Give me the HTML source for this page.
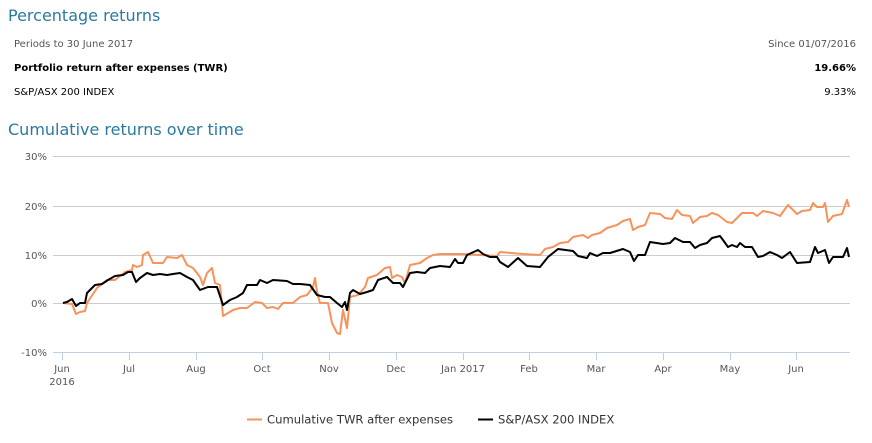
<!DOCTYPE html>
<html><head><meta charset="utf-8"><style>
body{margin:0;width:872px;height:443px;background:#fff;font-family:"DejaVu Sans",Verdana,sans-serif;overflow:hidden;position:relative}
.t{position:absolute;white-space:nowrap}
</style></head><body>
<div class="t" style="left:8px;top:6px;font-size:16px;color:#2a7aa0">Percentage returns</div>
<div class="t" style="left:14px;top:39px;font-size:10px;color:#555">Periods to 30 June 2017</div>
<div class="t" style="right:16px;top:39px;font-size:10px;color:#555">Since 01/07/2016</div>
<div class="t" style="left:14px;top:63px;font-size:10px;color:#000;font-weight:bold">Portfolio return after expenses (TWR)</div>
<div class="t" style="right:16px;top:63px;font-size:10px;color:#000;font-weight:bold">19.66%</div>
<div class="t" style="left:14px;top:87px;font-size:10px;color:#000">S&amp;P/ASX 200 INDEX</div>
<div class="t" style="right:16px;top:87px;font-size:10px;color:#000">9.33%</div>
<div class="t" style="left:8px;top:120px;font-size:16px;color:#2a7aa0">Cumulative returns over time</div>
<svg width="872" height="443" style="position:absolute;left:0;top:0" font-family="DejaVu Sans, Verdana, sans-serif" font-size="10" fill="#555">
<g stroke="#ccc" stroke-width="1">
<line x1="53" x2="850" y1="156.5" y2="156.5"/><line x1="53" x2="850" y1="206.5" y2="206.5"/>
<line x1="53" x2="850" y1="255.5" y2="255.5"/><line x1="53" x2="850" y1="303.5" y2="303.5"/>
</g>
<line x1="53" x2="850" y1="352.5" y2="352.5" stroke="#c0d0e0"/>
<g stroke="#c0d0e0"><line x1="62.5" x2="62.5" y1="352" y2="360"/><line x1="129.5" x2="129.5" y1="352" y2="360"/><line x1="196.5" x2="196.5" y1="352" y2="360"/><line x1="262.5" x2="262.5" y1="352" y2="360"/><line x1="329.5" x2="329.5" y1="352" y2="360"/><line x1="396.5" x2="396.5" y1="352" y2="360"/><line x1="463.5" x2="463.5" y1="352" y2="360"/><line x1="529.5" x2="529.5" y1="352" y2="360"/><line x1="596.5" x2="596.5" y1="352" y2="360"/><line x1="663.5" x2="663.5" y1="352" y2="360"/><line x1="730.5" x2="730.5" y1="352" y2="360"/><line x1="796.5" x2="796.5" y1="352" y2="360"/></g>
<g text-anchor="end"><text x="47" y="160">30%</text><text x="47" y="210">20%</text><text x="47" y="259">10%</text><text x="47" y="307">0%</text><text x="47" y="356">-10%</text></g>
<g text-anchor="middle"><text x="62" y="372">Jun</text><text x="62" y="385">2016</text><text x="129" y="372">Jul</text><text x="196" y="372">Aug</text><text x="262" y="372">Oct</text><text x="329" y="372">Nov</text><text x="396" y="372">Dec</text><text x="463" y="372">Jan 2017</text><text x="529" y="372">Feb</text><text x="596" y="372">Mar</text><text x="663" y="372">Apr</text><text x="730" y="372">May</text><text x="796" y="372">Jun</text></g>
<polyline fill="none" stroke="#f7935a" stroke-width="2" stroke-linejoin="round" points="63,303 72,304 76,314 80,312 85,311 87,303 97,288 107,280 115,280 125,272 132,270 133,265 137,267 142,265 143,255 148,252 153,263 163,263 167,257 177,258 182,255 187,265 193,268 200,277 203,285 207,273 212,268 215,283 220,285 223,316 233,310 240,308 247,308 255,302 262,303 267,308 273,307 278,309 283,303 293,303 300,297 307,295 313,287 315,278 317,292 320,303 328,303 332,323 337,333 340,334 343,310 347,328 350,297 358,295 365,287 368,278 377,275 385,268 390,267 392,278 397,275 402,277 405,283 410,265 420,263 427,258 433,255 440,254 463,254 480,255 497,256 500,252 523,254 540,255 545,249 553,247 560,243 568,242 573,237 583,235 588,238 592,235 600,233 607,228 617,225 623,221 630,219 633,230 638,227 645,225 650,213 660,214 665,218 672,219 677,210 682,215 690,216 693,223 700,217 707,216 712,213 718,215 727,222 732,223 742,213 753,213 757,216 763,211 773,213 780,216 788,205 797,214 802,211 810,210 813,203 817,207 823,207 825,203 828,222 833,216 842,214 847,200 849,207"/>
<polyline fill="none" stroke="#000" stroke-width="2" stroke-linejoin="round" points="63,303 67,302 72,299 76,306 80,303 85,303 87,293 95,285 102,284 108,280 115,276 123,275 128,272 132,272 136,282 140,278 147,273 153,275 160,274 167,275 173,274 180,273 187,277 193,280 200,290 208,287 217,287 223,305 230,300 237,297 243,293 247,285 257,285 260,280 267,283 273,280 287,281 293,284 300,284 310,285 317,295 325,297 330,297 337,303 342,307 345,302 347,310 350,293 353,290 360,294 367,292 373,290 378,280 387,277 393,283 400,283 403,287 410,273 417,272 425,273 430,268 440,266 450,267 455,259 458,263 463,263 467,255 478,250 483,254 490,257 497,257 500,262 508,267 518,258 527,266 540,267 548,257 558,249 573,251 578,256 587,258 590,253 597,256 603,253 610,253 623,249 630,252 634,261 638,255 645,255 650,242 663,244 670,243 675,238 683,242 690,242 695,248 700,245 707,243 712,238 720,236 723,240 728,247 732,245 737,247 740,243 745,247 752,247 758,257 763,256 770,252 777,255 782,258 790,252 797,263 810,262 815,247 818,253 825,250 829,263 833,257 843,257 847,248 849,257"/>
<line x1="247" x2="262" y1="419.5" y2="419.5" stroke="#f7935a" stroke-width="2"/>
<text x="267" y="423.5" fill="#333" font-size="11.6">Cumulative TWR after expenses</text>
<line x1="478" x2="493" y1="419.5" y2="419.5" stroke="#000" stroke-width="2"/>
<text x="498" y="423.5" fill="#333" font-size="11.6">S&amp;P/ASX 200 INDEX</text>
</svg>
</body></html>
